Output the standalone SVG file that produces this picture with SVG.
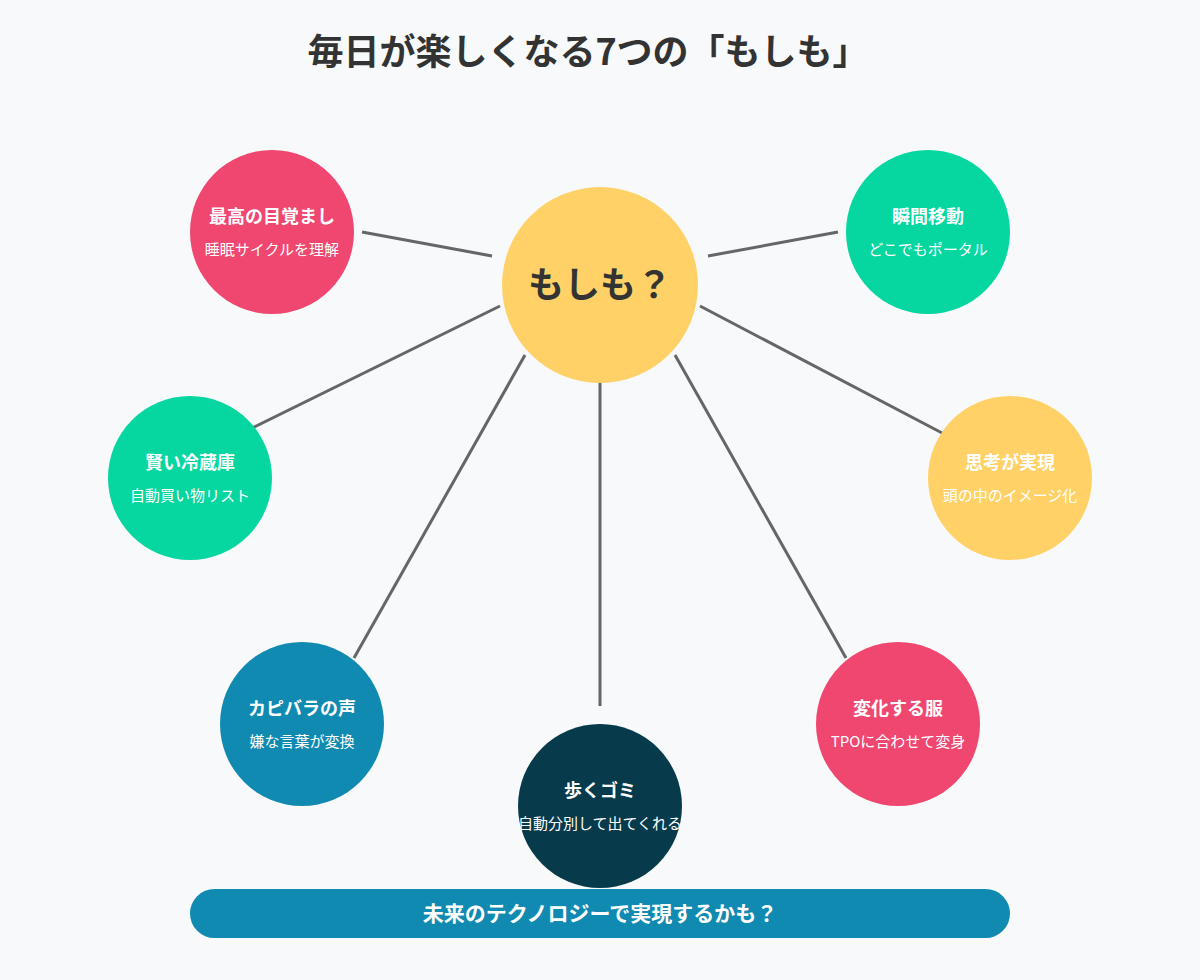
<svg xmlns="http://www.w3.org/2000/svg" width="1200" height="980" viewBox="0 0 1200 980">
<style>
text{font-family:"Noto Sans CJK JP","Noto Sans",sans-serif;text-anchor:middle}
.t{font-size:18px;font-weight:bold;fill:#fff}
.s{font-size:15px;fill:#fff}
.l{stroke:#666;stroke-width:3}
</style>
<rect width="1200" height="980" fill="#F7F9FA"/>
<text x="588" y="65" font-size="36" font-weight="bold" fill="#333">毎日が楽しくなる7つの「もしも」</text>
<g id="connectors">
<line class="l" x1="362" y1="232" x2="492" y2="256"/>
<line class="l" x1="708" y1="256" x2="838" y2="232"/>
<line class="l" x1="500" y1="306" x2="240" y2="434"/>
<line class="l" x1="700" y1="306" x2="944" y2="434"/>
<line class="l" x1="525" y1="355" x2="354" y2="658"/>
<line class="l" x1="600" y1="380" x2="600" y2="706"/>
<line class="l" x1="675" y1="355" x2="846" y2="658"/>
</g>
<g id="center"><circle cx="600" cy="285" r="98" fill="#FFD166"/><text x="600" y="298" font-size="36" font-weight="bold" fill="#333">もしも？</text></g>
<g id="n1"><circle cx="272" cy="232" r="82" fill="#EF476F"/><text class="t" x="272" y="223">最高の目覚まし</text><text class="s" x="272" y="255">睡眠サイクルを理解</text></g>
<g id="n2"><circle cx="928" cy="232" r="82" fill="#06D6A0"/><text class="t" x="928" y="223">瞬間移動</text><text class="s" x="928" y="255">どこでもポータル</text></g>
<g id="n3"><circle cx="190" cy="478" r="82" fill="#06D6A0"/><text class="t" x="190" y="469">賢い冷蔵庫</text><text class="s" x="190" y="501">自動買い物リスト</text></g>
<g id="n4"><circle cx="1010" cy="478" r="82" fill="#FFD166"/><text class="t" x="1010" y="469">思考が実現</text><text class="s" x="1010" y="501">頭の中のイメージ化</text></g>
<g id="n5"><circle cx="302" cy="724" r="82" fill="#118AB2"/><text class="t" x="302" y="715">カピバラの声</text><text class="s" x="302" y="747">嫌な言葉が変換</text></g>
<g id="n6"><circle cx="600" cy="806" r="82" fill="#073B4C"/><text class="t" x="600" y="797">歩くゴミ</text><text class="s" x="600" y="829">自動分別して出てくれる</text></g>
<g id="n7"><circle cx="898" cy="724" r="82" fill="#EF476F"/><text class="t" x="898" y="715">変化する服</text><text class="s" x="898" y="747">TPOに合わせて変身</text></g>
<g id="banner"><rect x="190" y="889" width="820" height="49" rx="24.5" fill="#118AB2"/><text x="600" y="921" font-size="21" font-weight="bold" fill="#fff">未来のテクノロジーで実現するかも？</text></g>
</svg>
